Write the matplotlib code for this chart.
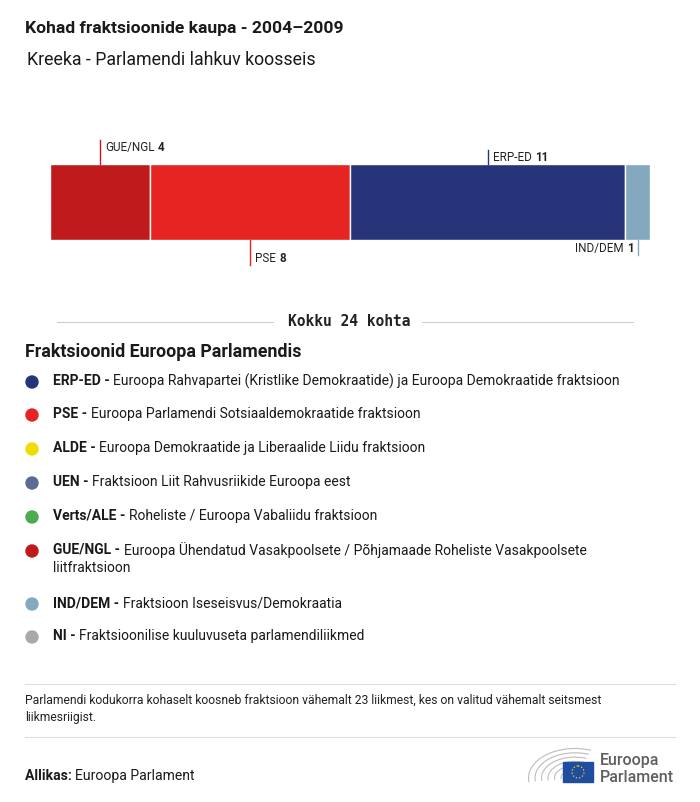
import numpy as np
import matplotlib.pyplot as plt
from matplotlib.patches import Circle, Rectangle, Arc

plt.rcParams['font.family'] = ['Roboto', 'DejaVu Sans']

# seats for Greece, left to right as drawn in the bar
groups = ["GUE/NGL", "PSE", "ERP-ED", "IND/DEM"]
seats = [4, 8, 11, 1]
bar_colors = ["#c01b1c", "#e62421", "#263579", "#84a9be"]
# label position: above or below the bar
label_side = ["up", "down", "up", "down"]

legend_codes = ["ERP-ED", "PSE", "ALDE", "UEN", "Verts/ALE", "GUE/NGL", "IND/DEM", "NI"]
legend_names = [
    "Euroopa Rahvapartei (Kristlike Demokraatide) ja Euroopa Demokraatide fraktsioon",
    "Euroopa Parlamendi Sotsiaaldemokraatide fraktsioon",
    "Euroopa Demokraatide ja Liberaalide Liidu fraktsioon",
    "Fraktsioon Liit Rahvusriikide Euroopa eest",
    "Roheliste / Euroopa Vabaliidu fraktsioon",
    "Euroopa Ühendatud Vasakpoolsete / Põhjamaade Roheliste Vasakpoolsete\nliitfraktsioon",
    "Fraktsioon Iseseisvus/Demokraatia",
    "Fraktsioonilise kuuluvuseta parlamendiliikmed",
]
legend_colors = ["#263579", "#e62421", "#ecdf00", "#5a6b94", "#4aab4f", "#c01b1c", "#84a9be", "#a9a9a9"]

W, H = 700, 802
fig = plt.figure(figsize=(W / 100, H / 100), dpi=100)
fig.patch.set_facecolor("white")

# overlay axes in pixel coordinates for all the text
ov = fig.add_axes([0, 0, 1, 1])
ov.set_xlim(0, W)
ov.set_ylim(H, 0)
ov.axis("off")

# bar axes
bx = fig.add_axes([50 / W, (H - 240) / H, 600 / W, 76 / H])
total = sum(seats)
bx.set_xlim(0, total)
bx.set_ylim(0, 1)
bx.axis("off")
lefts = np.cumsum([0] + seats[:-1])
bx.barh(0.5, seats, left=lefts, height=1, color=bar_colors, edgecolor="white", linewidth=1)

lab_fs = 8.4
px = 1 / 76  # one pixel in bar-axis y units
for g, s, l, c, side in zip(groups, seats, lefts, bar_colors, label_side):
    xc = l + s / 2
    if side == "up":
        top = 1 + (24 if g == "GUE/NGL" else 14) * px
        bx.plot([xc, xc], [1, top], color=c, lw=1, clip_on=False)
        t = bx.text(xc + 0.2, top - 1 * px, g, ha="left", va="top", fontsize=lab_fs,
                    color="#222222", clip_on=False)
        bx.annotate(str(s), xy=(1, 0), xycoords=t, xytext=(2.5, 0), textcoords="offset points",
                    ha="left", va="bottom", fontsize=lab_fs, fontweight="bold",
                    color="#222222", annotation_clip=False)
    else:
        bot = -(25 if g == "PSE" else 15) * px
        bx.plot([xc, xc], [0, bot], color=c, lw=1, clip_on=False)
        if g == "IND/DEM":
            t = bx.text(xc - 0.15, -2 * px, str(s), ha="right", va="top", fontsize=lab_fs,
                        fontweight="bold", color="#222222", clip_on=False)
            bx.annotate(g, xy=(0, 0), xycoords=t, xytext=(-2.5, 0), textcoords="offset points",
                        ha="right", va="bottom", fontsize=lab_fs, color="#222222",
                        annotation_clip=False)
        else:
            t = bx.text(xc + 0.2, bot + 13 * px, g, ha="left", va="top", fontsize=lab_fs,
                        color="#222222", clip_on=False)
            bx.annotate(str(s), xy=(1, 0), xycoords=t, xytext=(2.5, 0), textcoords="offset points",
                        ha="left", va="bottom", fontsize=lab_fs, fontweight="bold",
                        color="#222222", annotation_clip=False)

# titles
ov.text(25, 29, "Kohad fraktsioonide kaupa - 2004–2009", fontsize=12.6, fontweight="bold",
        color="#1a1a1a", va="center")
ov.text(27, 60, "Kreeka - Parlamendi lahkuv koosseis", fontsize=12.8, color="#1a1a1a", va="center")

# total line
ov.plot([57, 273], [322, 322], color="#cccccc", lw=0.8)
ov.plot([422, 633], [322, 322], color="#cccccc", lw=0.8)
ov.text(349, 322, "Kokku %d kohta" % total, fontsize=10.5, fontweight="bold",
        family="DejaVu Sans Mono", ha="center", va="center", color="#222222")

ov.text(25, 352, "Fraktsioonid Euroopa Parlamendis", fontsize=12.8, fontweight="bold",
        color="#1a1a1a", va="center")

leg_fs = 10
ys = [381, 414, 448, 482, 516, 550, 603, 636]
for y, code, name, c in zip(ys, legend_codes, legend_names, legend_colors):
    ov.add_patch(Circle((32, y + 1), 6, color=c))
    t = ov.text(53, y, code + " - ", fontsize=leg_fs, fontweight="bold", color="#1a1a1a", va="center")
    lines = name.split("\n")
    ov.annotate(lines[0], xycoords=t, xy=(1, 0.5), ha="left", va="center",
                fontsize=leg_fs, color="#1a1a1a")
    if len(lines) > 1:
        ov.text(53, y + 18, lines[1], fontsize=leg_fs, color="#1a1a1a", va="center")

# footnote
ov.plot([25, 675], [684, 684], color="#dddddd", lw=0.8)
ov.text(25, 700, "Parlamendi kodukorra kohaselt koosneb fraktsioon vähemalt 23 liikmest, kes on valitud vähemalt seitsmest",
        fontsize=8.7, color="#222222", va="center")
ov.text(25, 717, "liikmesriigist.", fontsize=8.7, color="#222222", va="center")
ov.plot([25, 675], [737, 737], color="#dddddd", lw=0.8)

t = ov.text(25, 776, "Allikas: ", fontsize=10.1, fontweight="bold", color="#1a1a1a", va="center")
ov.annotate("Euroopa Parlament", xycoords=t, xy=(1, 0.5), ha="left", va="center",
            fontsize=10.1, color="#1a1a1a")

# logo (y axis is inverted here, so angles are mirrored)
for k in range(6):
    rx = 14 + k * 6.5
    ry = 8 + k * 4.3
    ov.add_patch(Arc((575, 778), 2 * rx, 2 * ry, theta1=175, theta2=300,
                     color="#bdbdbd", lw=0.8))
ov.add_patch(Rectangle((563, 762), 30, 20, color="#1f4ea1", zorder=3))
ov.add_patch(Circle((578, 772), 6, fill=False, ec="#ffd700", lw=0.9, ls=":", zorder=4))
ov.text(600, 761, "Euroopa", fontsize=11.5, fontweight="medium", color="#5f5f5f", va="center")
ov.text(600, 777, "Parlament", fontsize=11.5, fontweight="medium", color="#5f5f5f", va="center")

fig.savefig("out.png", dpi=100, facecolor="white")
